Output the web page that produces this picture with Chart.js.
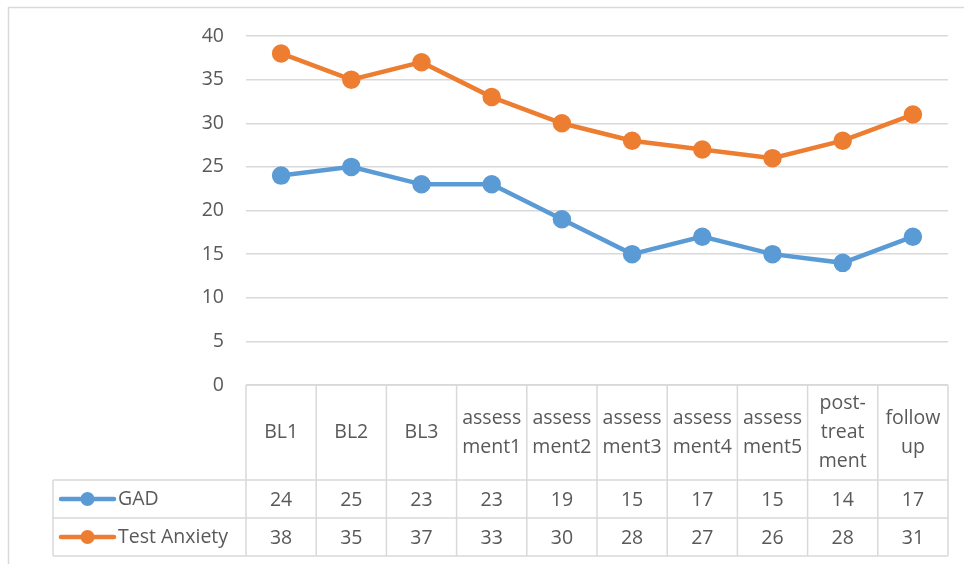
<!DOCTYPE html>
<html>
<head>
<meta charset="utf-8">
<script src="https://cdn.jsdelivr.net/npm/chart.js@4"></script>
<style>
  html, body { margin: 0; padding: 0; background: #fff; }
  #wrap { width: 964px; height: 564px; position: relative; }
</style>
</head>
<body>
<div id="wrap"><canvas id="chart"></canvas></div>
<script>
// chart data
const categories = [['BL1'], ['BL2'], ['BL3'], ['assess', 'ment1'], ['assess', 'ment2'], ['assess', 'ment3'],
  ['assess', 'ment4'], ['assess', 'ment5'], ['post-', 'treat', 'ment'], ['follow', 'up']];
const gadValues = [24, 25, 23, 23, 19, 15, 17, 15, 14, 17];
const testAnxietyValues = [38, 35, 37, 33, 30, 28, 27, 26, 28, 31];
const seriesNames = ['GAD', 'Test Anxiety'];
const seriesColors = ['#5B9BD5', '#ED7D31'];

const FONT = '"Open Sans", "Noto Sans", sans-serif';
const TEXT = '#595959';
const GRID = '#d9d9d9';

// draws the data table under the plot, lined up with the x scale
const dataTable = {
  id: 'dataTable',
  afterDraw(chart) {
    const ctx = chart.ctx;
    const x = chart.scales.x;
    const area = chart.chartArea;
    const n = categories.length;
    const colW = (area.right - area.left) / n;
    const headTop = area.bottom, headBot = 480, row1 = 518, row2 = 556;
    const legLeft = 53;

    ctx.save();
    // outer frame (only top and left are visible)
    ctx.strokeStyle = GRID;
    ctx.lineWidth = 1.5;
    ctx.strokeRect(8.5, 7.5, 1000, 600);

    ctx.beginPath();
    // horizontal lines
    ctx.moveTo(area.left, headTop); ctx.lineTo(area.right, headTop);
    ctx.moveTo(legLeft, headBot); ctx.lineTo(area.right, headBot);
    ctx.moveTo(legLeft, row1); ctx.lineTo(area.right, row1);
    ctx.moveTo(legLeft, row2); ctx.lineTo(area.right, row2);
    // vertical lines
    for (let i = 0; i <= n; i++) {
      const vx = area.left + i * colW;
      ctx.moveTo(vx, headTop); ctx.lineTo(vx, row2);
    }
    ctx.moveTo(legLeft, headBot); ctx.lineTo(legLeft, row2);
    ctx.stroke();

    ctx.fillStyle = TEXT;
    ctx.font = '19.5px ' + FONT;
    ctx.textAlign = 'center';
    ctx.textBaseline = 'middle';
    const lh = 29;
    categories.forEach((lines, i) => {
      const cx = x.getPixelForValue(i);
      const cy = (headTop + headBot) / 2;
      lines.forEach((t, j) => {
        ctx.fillText(t, cx, cy + (j - (lines.length - 1) / 2) * lh);
      });
    });

    const rows = [[gadValues, headBot, row1], [testAnxietyValues, row1, row2]];
    rows.forEach(([vals, top, bot], r) => {
      const cy = (top + bot) / 2;
      ctx.textAlign = 'center';
      ctx.fillStyle = TEXT;
      vals.forEach((v, i) => ctx.fillText(String(v), x.getPixelForValue(i), cy + 1));
      // legend key
      ctx.strokeStyle = seriesColors[r];
      ctx.lineWidth = 4.5;
      ctx.lineCap = 'round';
      ctx.beginPath();
      ctx.moveTo(61, cy); ctx.lineTo(114, cy);
      ctx.stroke();
      ctx.fillStyle = seriesColors[r];
      ctx.beginPath();
      ctx.arc(87.5, cy, 7, 0, Math.PI * 2);
      ctx.fill();
      ctx.fillStyle = TEXT;
      ctx.textAlign = 'left';
      ctx.fillText(seriesNames[r], 118, cy);
    });
    ctx.restore();
  }
};

new Chart(document.getElementById('chart'), {
  type: 'line',
  data: {
    labels: categories.map(c => c.join(' ')),
    datasets: [
      { label: seriesNames[0], data: gadValues, borderColor: seriesColors[0], backgroundColor: seriesColors[0],
        borderWidth: 4.5, pointRadius: 7, pointHoverRadius: 7, tension: 0 },
      { label: seriesNames[1], data: testAnxietyValues, borderColor: seriesColors[1], backgroundColor: seriesColors[1],
        borderWidth: 4.5, pointRadius: 7, pointHoverRadius: 7, tension: 0 }
    ]
  },
  options: {
    responsive: true,
    maintainAspectRatio: false,
    animation: false,
    layout: { padding: { left: 8, right: 16, top: 36, bottom: 179 } },
    plugins: { legend: { display: false }, tooltip: { enabled: false } },
    scales: {
      x: { display: false, offset: true },
      y: {
        min: 0, max: 40,
        ticks: { stepSize: 5, color: TEXT, font: { family: FONT, size: 19.5 }, padding: 22 },
        grid: { color: GRID, lineWidth: 1.5, drawTicks: false },
        border: { display: false },
        afterFit(scale) { scale.width = 238; }
      }
    }
  },
  plugins: [dataTable]
});
</script>
</body>
</html>
